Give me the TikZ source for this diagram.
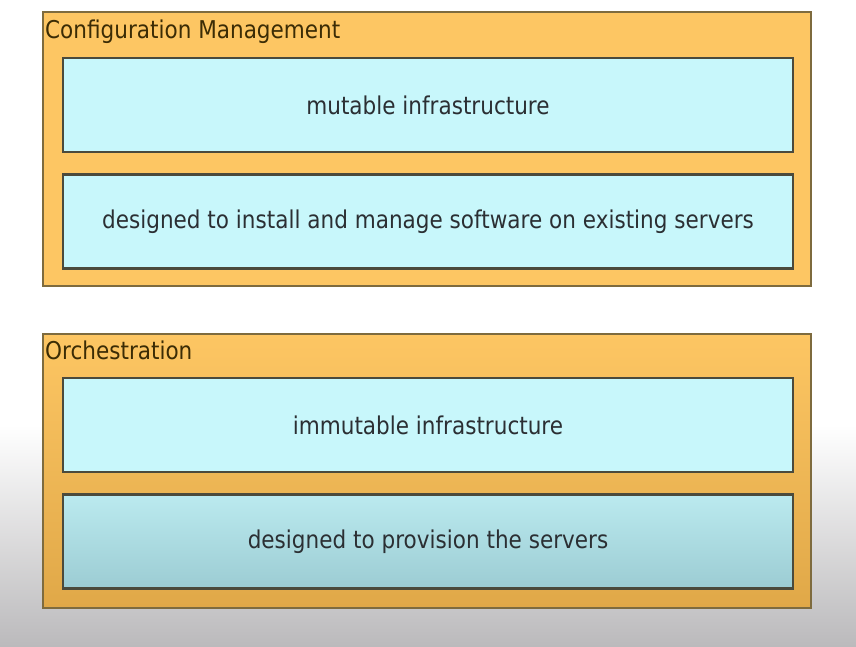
\documentclass[tikz,border=0pt]{standalone}
\usepackage{fontspec}
\setmainfont{DejaVu Sans}[FakeStretch=0.88]
\usetikzlibrary{positioning}

\definecolor{groupfill}{HTML}{FDC663}
\definecolor{groupdark}{HTML}{E0A848}
\definecolor{boxedge}{HTML}{7E6B3E}
\definecolor{itemfill}{HTML}{C8F7FB}
\definecolor{itemdark}{HTML}{9CCCD3}
\definecolor{itemedge}{HTML}{4B4A3C}
\definecolor{itemink}{HTML}{2B2F33}
\definecolor{titleink}{HTML}{3B2C05}
\definecolor{bggray}{HTML}{BBBABC}

\begin{document}
\begin{tikzpicture}[x=1pt,y=-1pt,node distance=20pt,
            groupbox/.style={draw=boxedge,line width=1.8pt,fill=groupfill,
              minimum width=768pt,minimum height=274pt,anchor=north west,inner sep=0pt},
            grouptitle/.style={text=titleink,font=\fontsize{24.5}{28}\selectfont,
              anchor=base west,inner sep=0pt},
            itembox/.style={draw=itemedge,line width=2.4pt,fill=itemfill,
              minimum width=730pt,minimum height=94pt,text=itemink,
              font=\fontsize{24.5}{28}\selectfont}]
            % page and the grey fade at the bottom
            \useasboundingbox (0,0) rectangle (856,646);
            \fill[white] (0,0) rectangle (856,646);
            \shade[top color=white,bottom color=bggray] (0,425) rectangle (856,646);

            % configuration management
            \node[groupbox] (cfg) at (42,11) {};
            \node[grouptitle] (cfgtitle) at ([shift={(3,27)}]cfg.north west) {Configuration Management};
            \node[itembox] (mutable) at (428,105) {mutable infrastructure};
            \node[itembox,below=of mutable] (install) {designed to install and manage software on existing servers};

            % orchestration
            \node[groupbox,top color=groupfill,bottom color=groupdark] (orch) at (42,333) {};
            \node[grouptitle] (orchtitle) at ([shift={(3,26)}]orch.north west) {Orchestration};
            \node[itembox] (immutable) at (428,425) {immutable infrastructure};
            \node[itembox,below=of immutable,top color=itemfill!70!itemdark,bottom color=itemdark] (provision) {designed to provision the servers};
        \end{tikzpicture}
\end{document}
